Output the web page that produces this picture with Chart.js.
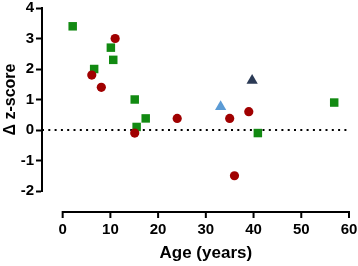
<!DOCTYPE html>
<html>
<head>
<meta charset="utf-8">
<script src="https://cdn.jsdelivr.net/npm/chart.js@4.4.0/dist/chart.umd.min.js"></script>
<style>
  html, body { margin: 0; padding: 0; background: #fff; }
  #wrap { width: 358px; height: 266px; }
</style>
</head>
<body>
<div id="wrap"><canvas id="chart" width="358" height="266"></canvas></div>
<script>
// age (years) and delta z-score per group
const redAges = [11.0, 6.1, 8.1, 15.1, 24.0, 35.0, 39.0, 36.0]
const redScores = [3.0, 1.8, 1.4, -0.1, 0.38, 0.38, 0.6, -1.5]
const greenAges = [2.1, 6.6, 10.1, 10.6, 15.1, 15.5, 17.4, 40.9, 56.9]
const greenScores = [3.4, 2.0, 2.7, 2.3, 1.0, 0.1, 0.38, -0.1, 0.9]
const lightAges = [33.1]
const lightScores = [0.76]
const darkAges = [39.7]
const darkScores = [1.62]

const xTicks = [0, 10, 20, 30, 40, 50, 60]
const yTicks = [-2, -1, 0, 1, 2, 3, 4]
const xMin = -4.33

function points(xs, ys){
    let out = []
    for (let i = 0; i < xs.length; i++){
        out.push({x: xs[i], y: ys[i]})
    }
    return out
}

const tickFont = {family: 'Liberation Sans, Arial', size: 15, weight: 'bold'}
const titleFont = {family: 'Liberation Sans, Arial', size: 16, weight: 'bold'}

// x axis sits apart from the plot, drawn below it
const detachedXAxis = {
    id: 'detachedXAxis',
    afterDraw(chart){
        const ctx = chart.ctx
        const x = chart.scales.x
        const y0 = 212
        ctx.save()
        ctx.strokeStyle = '#000'
        ctx.lineWidth = 2
        ctx.beginPath()
        ctx.moveTo(x.getPixelForValue(xTicks[0]) - 1, y0)
        ctx.lineTo(x.getPixelForValue(xTicks[xTicks.length - 1]) + 1, y0)
        for (const t of xTicks){
            const px = x.getPixelForValue(t)
            ctx.moveTo(px, y0)
            ctx.lineTo(px, y0 + 6)
        }
        ctx.stroke()
        ctx.fillStyle = '#000'
        ctx.font = 'bold 17px "Liberation Sans", Arial'
        ctx.textAlign = 'center'
        ctx.textBaseline = 'alphabetic'
        ctx.fillText('Age (years)', x.getPixelForValue(30), 258)
        ctx.restore()
    }
}

let ctx = document.getElementById('chart').getContext('2d')
window.chart = new Chart(ctx, {
    type: 'scatter',
    data: {
        datasets: [
            {
                label: 'Group A',
                data: points(redAges, redScores),
                backgroundColor: '#a00000',
                borderWidth: 0,
                pointStyle: 'circle',
                pointRadius: 4.6,
                order: 1
            },
            {
                label: 'Group B',
                data: points(greenAges, greenScores),
                backgroundColor: '#128a12',
                borderWidth: 0,
                pointStyle: 'rect',
                pointRadius: 6,
                order: 2
            },
            {
                label: 'Group C',
                data: points(lightAges, lightScores),
                backgroundColor: '#5b9bd5',
                borderWidth: 0,
                pointStyle: 'triangle',
                pointRadius: 6.5,
                order: 1
            },
            {
                label: 'Group D',
                data: points(darkAges, darkScores),
                backgroundColor: '#2b3a55',
                borderWidth: 0,
                pointStyle: 'triangle',
                pointRadius: 6.5,
                order: 1
            },
            {
                type: 'line',
                label: 'zero',
                data: [{x: xMin, y: 0}, {x: xTicks[xTicks.length - 1], y: 0}],
                borderColor: '#000',
                borderWidth: 2,
                borderDash: [2, 4.3],
                pointRadius: 0,
                fill: false,
                order: 3
            }
        ]
    },
    options: {
        responsive: false,
        animation: false,
        layout: {
            padding: {top: 8, right: 9, bottom: 0, left: 0}
        },
        plugins: {
            legend: {display: false},
            tooltip: {enabled: false}
        },
        scales: {
            x: {
                type: 'linear',
                min: xMin,
                max: 60,
                afterBuildTicks(scale){
                    scale.ticks = xTicks.map(v => ({value: v}))
                },
                afterFit(scale){
                    scale.height = 75
                    scale.paddingLeft = 0
                    scale.paddingRight = 0
                },
                grid: {display: false},
                border: {display: false},
                ticks: {
                    color: '#000',
                    font: tickFont,
                    padding: 22,
                    maxRotation: 0
                }
            },
            y: {
                min: -2,
                max: 4,
                afterBuildTicks(scale){
                    scale.ticks = yTicks.map(v => ({value: v}))
                },
                afterFit(scale){
                    scale.width = 42
                    scale.paddingTop = 0
                    scale.paddingBottom = 0
                },
                grid: {
                    drawOnChartArea: false,
                    tickLength: 6,
                    tickWidth: 2,
                    tickColor: '#000'
                },
                border: {display: true, color: '#000', width: 2},
                ticks: {
                    color: '#000',
                    font: tickFont,
                    padding: 2
                },
                title: {
                    display: true,
                    text: 'Δ z-score',
                    color: '#000',
                    font: titleFont,
                    padding: {top: 1, bottom: 0}
                }
            }
        }
    },
    plugins: [detachedXAxis]
});
</script>
</body>
</html>
